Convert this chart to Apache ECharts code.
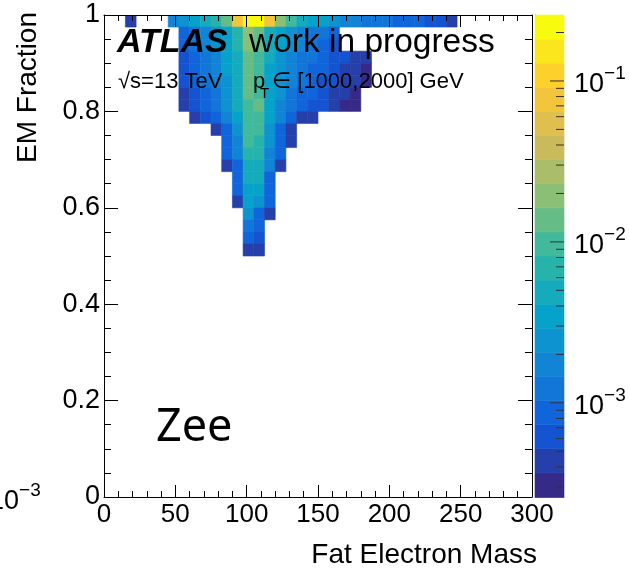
<!DOCTYPE html>
<html>
<head>
<meta charset="utf-8">
<title>EM Fraction vs Fat Electron Mass</title>
<script src="https://cdn.jsdelivr.net/npm/echarts@6/dist/echarts.min.js"></script>
<style>
  html, body { margin: 0; padding: 0; background: #fff; }
  #chart { width: 629px; height: 573px; }
</style>
</head>
<body>
<div id="chart"></div>
<script>
// histogram binning
var xBinWidth = 7.5;    // GeV
var yBinWidth = 0.025;  // EM fraction

// first filled x bin of every row, rows go from EM Fraction = 1 downwards
var rowFirstBin = [2, 7, 7, 7, 7, 7, 7, 7, 8, 10, 11, 11, 11, 12, 12, 12, 13, 13, 13, 13];

// normalised entries per cell (x 1e-3), 0 = empty cell
var rowValues = [
  [0.44, 0, 0, 0, 1.7, 2.5, 3.5, 4.9, 6.9, 14, 77, 250, 230, 77, 19, 9.7, 4.9, 3.5, 3.5, 2.5, 1.7, 1.7, 1.2, 1.2, 1.2, 0.87, 0.87, 0.87, 0.62, 0.62, 0.44],
  [0.87, 1.2, 1.7, 2.5, 3.5, 6.9, 19, 14, 4.9, 3.5, 2.5, 1.7, 1.2, 1.2, 0.87],
  [0.87, 1.2, 1.7, 2.5, 3.5, 6.9, 19, 14, 4.9, 3.5, 2.5, 1.7, 1.2, 0.87, 0.62],
  [0.62, 0.87, 1.2, 1.7, 3.5, 4.9, 14, 9.7, 4.9, 2.5, 1.7, 1.2, 1.2, 0.87, 0.62, 0.62, 0.44, 0.44],
  [0.62, 0.87, 1.2, 1.7, 3.5, 4.9, 14, 9.7, 3.5, 2.5, 1.7, 1.2, 0.87, 0.87, 0.62, 0.44, 0.44, 0.31],
  [0.62, 0.87, 1.2, 1.7, 2.5, 4.9, 14, 9.7, 3.5, 2.5, 1.7, 1.2, 0.87, 0.62, 0.62, 0.44, 0.44, 0.31],
  [0.44, 0.62, 0.87, 1.2, 2.5, 4.9, 14, 9.7, 3.5, 2.5, 1.2, 0.87, 0.87, 0.62, 0.44, 0.44, 0.31],
  [0.44, 0.62, 0.87, 1.2, 2.5, 4.9, 9.7, 14, 3.5, 1.7, 1.2, 0.87, 0.62, 0.62, 0.44, 0.31, 0.31],
  [0.44, 0.62, 0.87, 1.7, 3.5, 9.7, 9.7, 3.5, 1.7, 0.87, 0.44, 0.44],
  [0.44, 0.87, 2.5, 9.7, 9.7, 2.5, 0.87, 0.44],
  [0.87, 1.7, 9.7, 6.9, 2.5, 0.87, 0.44],
  [0.87, 1.7, 6.9, 6.9, 1.7, 0.87],
  [0.44, 0.87, 4.9, 4.9, 1.7, 0.44],
  [0.87, 4.9, 4.9, 0.87],
  [0.87, 3.5, 3.5, 0.87],
  [0.44, 3.5, 2.5, 0.87],
  [2.5, 0.87, 0.44],
  [1.2, 0.87],
  [0.87, 0.62],
  [0.44, 0.44]
];

// z (colour) axis
var zMin = 2.6e-4;
var zMax = 0.257;
var zTickValues = [3e-4, 4e-4, 5e-4, 6e-4, 7e-4, 8e-4, 9e-4,
  1e-3, 2e-3, 3e-3, 4e-3, 5e-3, 6e-3, 7e-3, 8e-3, 9e-3,
  1e-2, 2e-2, 3e-2, 4e-2, 5e-2, 6e-2, 7e-2, 8e-2, 9e-2,
  1e-1, 2e-1];

// ROOT kBird palette
var birdStops = [0, 0.125, 0.25, 0.375, 0.5, 0.625, 0.75, 0.875, 1];
var birdRed = [0.2082, 0.0592, 0.0780, 0.0232, 0.1802, 0.5301, 0.8186, 0.9956, 0.9764];
var birdGreen = [0.1664, 0.3599, 0.5041, 0.6419, 0.7178, 0.7492, 0.7328, 0.7862, 0.9832];
var birdBlue = [0.5293, 0.8684, 0.8385, 0.7914, 0.6425, 0.4662, 0.3499, 0.1968, 0.0539];
var nLevels = 20;

var FONT = '"Liberation Sans", Arial, Helvetica, sans-serif';

function birdColor(t) {
  var i = 0;
  while (i < birdStops.length - 2 && t > birdStops[i + 1]) i++;
  var f = (t - birdStops[i]) / (birdStops[i + 1] - birdStops[i]);
  function mix(arr) {
    return Math.round(255 * (arr[i] + (arr[i + 1] - arr[i]) * f));
  }
  return 'rgb(' + mix(birdRed) + ',' + mix(birdGreen) + ',' + mix(birdBlue) + ')';
}

// contour levels of the colour scale
var logMin = Math.log10(zMin);
var logStep = (Math.log10(zMax) - logMin) / nLevels;
var pieces = [];
var bands = [];
for (var k = 0; k < nLevels; k++) {
  var lo = Math.pow(10, logMin + k * logStep);
  var hi = Math.pow(10, logMin + (k + 1) * logStep);
  var piece = { gte: lo, color: birdColor(k / (nLevels - 1)) };
  if (k < nLevels - 1) piece.lt = hi; else piece.lte = hi * 1.001;
  pieces.push(piece);
  bands.push([lo, hi, Math.sqrt(lo * hi)]);
}

// cells of the histogram: [x low edge, y low edge, content]
var cells = [];
rowValues.forEach(function (vals, j) {
  var yLow = 1 - (j + 1) * yBinWidth;
  vals.forEach(function (v, n) {
    if (!v) return;
    cells.push([(rowFirstBin[j] + n) * xBinWidth, yLow, v * 1e-3]);
  });
});

var chart = echarts.init(document.getElementById('chart'), null, { renderer: 'canvas' });

var frameLine = { show: true, onZero: false, lineStyle: { color: '#000', width: 1 } };

function mainAxis(opts) {
  var ax = {
    gridIndex: 0,
    type: 'value',
    z: 5,
    axisLine: frameLine,
    axisTick: { show: true, inside: true, length: opts.tickLen, lineStyle: { color: '#000' } },
    minorTick: { show: true, splitNumber: opts.minor, length: opts.tickLen / 2, lineStyle: { color: '#000' } },
    splitLine: { show: false },
    minorSplitLine: { show: false },
    axisLabel: { show: false }
  };
  for (var key in opts.extra) ax[key] = opts.extra[key];
  return ax;
}

var option = {
  animation: false,
  backgroundColor: '#fff',
  grid: [
    { left: 104, top: 15, width: 428, height: 482 },
    { left: 535, top: 15, width: 29, height: 482 }
  ],
  xAxis: [
    mainAxis({ tickLen: 12, minor: 5, extra: {
      min: 0, max: 300, interval: 50, position: 'bottom',
      axisLabel: { show: true, fontSize: 26, fontFamily: FONT, color: '#000', margin: 5 }
    } }),
    mainAxis({ tickLen: 12, minor: 5, extra: { min: 0, max: 300, interval: 50, position: 'top' } }),
    { gridIndex: 1, type: 'value', min: 0, max: 1, position: 'bottom',
      axisLine: { show: true, lineStyle: { color: '#666' } }, axisTick: { show: false },
      axisLabel: { show: false }, splitLine: { show: false } }
  ],
  yAxis: [
    mainAxis({ tickLen: 14, minor: 4, extra: {
      min: 0, max: 1, interval: 0.2, position: 'left',
      axisLabel: { show: true, fontSize: 27, fontFamily: FONT, color: '#000', margin: 4 }
    } }),
    mainAxis({ tickLen: 14, minor: 4, extra: { min: 0, max: 1, interval: 0.2, position: 'right' } }),
    { gridIndex: 1, type: 'log', logBase: 10, min: zMin, max: zMax, position: 'right',
      axisLine: { show: true, lineStyle: { color: '#555' } },
      axisTick: { show: false },
      splitLine: { show: false },
      axisLabel: {
        show: true, margin: 10,
        formatter: function (v) {
          var e = Math.round(Math.log10(v));
          if (Math.abs(Math.log10(v) - e) > 1e-6) return '';
          return '{b|10}{s|' + (e < 0 ? '\u2212' : '') + Math.abs(e) + '}';
        },
        rich: {
          b: { fontSize: 27, fontFamily: FONT, color: '#000', lineHeight: 34, verticalAlign: 'bottom' },
          s: { fontSize: 19, fontFamily: FONT, color: '#000', lineHeight: 20, verticalAlign: 'top' }
        }
      }
    }
  ],
  visualMap: {
    type: 'piecewise',
    show: false,
    dimension: 2,
    seriesIndex: [0, 1],
    pieces: pieces
  },
  series: [
    {
      name: 'Zee',
      type: 'custom',
      xAxisIndex: 0,
      yAxisIndex: 0,
      z: 2,
      clip: true,
      silent: true,
      encode: { x: 0, y: 1 },
      data: cells,
      renderItem: function (params, api) {
        var x0 = api.value(0), y0 = api.value(1);
        var p0 = api.coord([x0, y0 + yBinWidth]);
        var p1 = api.coord([x0 + xBinWidth, y0]);
        var col = api.visual('color');
        return {
          type: 'rect',
          shape: { x: p0[0], y: p0[1], width: p1[0] - p0[0], height: p1[1] - p0[1] },
          style: { fill: col, stroke: col, lineWidth: 0.6 }
        };
      }
    },
    {
      name: 'palette',
      type: 'custom',
      xAxisIndex: 2,
      yAxisIndex: 2,
      z: 2,
      silent: true,
      encode: { y: 2 },
      data: bands,
      renderItem: function (params, api) {
        var p0 = api.coord([0, api.value(1)]);
        var p1 = api.coord([1, api.value(0)]);
        var col = api.visual('color');
        return {
          type: 'rect',
          shape: { x: p0[0], y: p0[1], width: p1[0] - p0[0], height: p1[1] - p0[1] },
          style: { fill: col, stroke: col, lineWidth: 0.6 }
        };
      }
    },
    {
      name: 'z ticks',
      type: 'custom',
      xAxisIndex: 2,
      yAxisIndex: 2,
      z: 4,
      silent: true,
      encode: { y: 0 },
      data: zTickValues.map(function (v) { return [v]; }),
      renderItem: function (params, api) {
        var v = api.value(0);
        var major = Math.abs(Math.log10(v) - Math.round(Math.log10(v))) < 1e-6;
        var p = api.coord([1, v]);
        var len = major ? 14 : 8;
        return {
          type: 'line',
          shape: { x1: p[0] - len, y1: p[1], x2: p[0], y2: p[1] },
          style: { stroke: '#333', lineWidth: 1 }
        };
      }
    }
  ],
  graphic: [
    { type: 'text', x: 117, y: 43, z: 10,
      style: { text: 'ATLAS', fontSize: 34, fontWeight: 'bold', fontStyle: 'italic', fontFamily: FONT,
        fill: '#000', align: 'left', verticalAlign: 'middle' } },
    { type: 'text', x: 249, y: 43, z: 10,
      style: { text: 'work in progress', fontSize: 33.5, fontFamily: FONT, fill: '#000',
        align: 'left', verticalAlign: 'middle' } },
    { type: 'text', x: 118, y: 82, z: 10,
      style: { text: '\u221As=13 TeV', fontSize: 22, fontFamily: FONT, fill: '#000',
        align: 'left', verticalAlign: 'middle' } },
    { type: 'text', x: 253, y: 82, z: 10,
      style: { text: 'p', fontSize: 22, fontFamily: FONT, fill: '#000',
        align: 'left', verticalAlign: 'middle' } },
    { type: 'text', x: 260, y: 94, z: 10,
      style: { text: 'T', fontSize: 15, fontFamily: FONT, fill: '#000',
        align: 'left', verticalAlign: 'middle' } },
    { type: 'text', x: 272, y: 82, z: 10,
      style: { text: '\u2208 [1000,2000] GeV', fontSize: 22, fontFamily: FONT + ', "DejaVu Sans"', fill: '#000',
        align: 'left', verticalAlign: 'middle' } },
    { type: 'text', x: 156, y: 428, z: 10,
      style: { text: 'Zee', fontSize: 45, fontFamily: '"Noto Sans", sans-serif', fill: '#000',
        align: 'left', verticalAlign: 'middle' } },
    { type: 'text', x: 537, y: 555, z: 10,
      style: { text: 'Fat Electron Mass', fontSize: 28, fontFamily: FONT, fill: '#000',
        align: 'right', verticalAlign: 'middle' } },
    { type: 'text', x: 28, y: 12, z: 10, rotation: Math.PI / 2,
      style: { text: 'EM Fraction', fontSize: 28, fontFamily: FONT, fill: '#000',
        align: 'right', verticalAlign: 'middle' } },
    { type: 'text', x: -11, y: 498, z: 10,
      style: { text: '{b|10}{s|\u22123}', align: 'left', verticalAlign: 'middle',
        rich: {
          b: { fontSize: 27, fontFamily: FONT, fill: '#000', lineHeight: 34, verticalAlign: 'bottom' },
          s: { fontSize: 19, fontFamily: FONT, fill: '#000', lineHeight: 20, verticalAlign: 'top' }
        } } }
  ]
};

chart.setOption(option);
</script>
</body>
</html>
